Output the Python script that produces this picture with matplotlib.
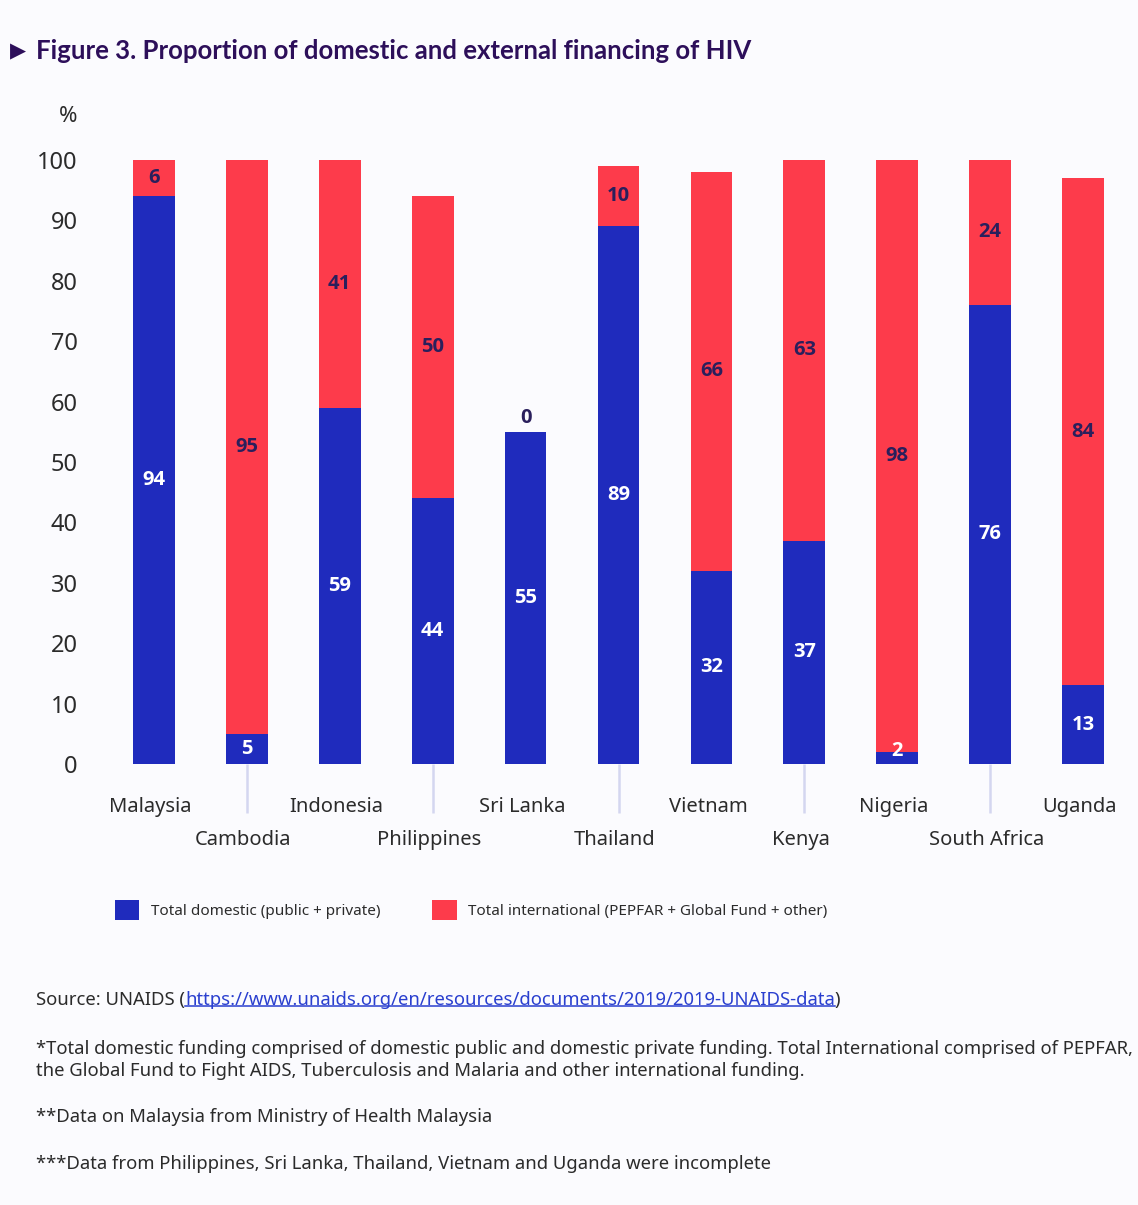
import numpy as np
import matplotlib
matplotlib.use("Agg")
import matplotlib.pyplot as plt
from matplotlib.patches import Patch
from matplotlib.lines import Line2D
from matplotlib.transforms import ScaledTranslation

# data
countries = ["Malaysia", "Cambodia", "Indonesia", "Philippines", "Sri Lanka", "Thailand",
             "Vietnam", "Kenya", "Nigeria", "South Africa", "Uganda"]
domestic = [94, 5, 59, 44, 55, 89, 32, 37, 2, 76, 13]
international = [6, 95, 41, 50, 0, 10, 66, 63, 98, 24, 84]
yticks = [0, 10, 20, 30, 40, 50, 60, 70, 80, 90, 100]

blue = "#1f2bbd"
red = "#fd3b4b"
navy = "#2a1f5c"
bg = "#fbfbfe"
txt = "#2b2b2b"

plt.rcParams["font.family"] = ["Noto Sans", "DejaVu Sans"]
bold_fam = ["Open Sans", "Noto Sans", "DejaVu Sans"]

W, H = 1138, 1205
fig = plt.figure(figsize=(W / 100, H / 100), dpi=100, facecolor=bg)
ax = fig.add_axes([100 / W, 1 - 764 / H, 1037 / W, 604 / H])
ax.set_facecolor(bg)

x = np.arange(len(countries))
ax.bar(x, domestic, width=0.45, color=blue)
ax.bar(x, international, bottom=domestic, width=0.45, color=red)

for i in range(len(countries)):
    d, v = domestic[i], international[i]
    ax.text(i, max(d / 2, 2.2), str(d), ha="center", va="center", color="white",
            fontsize=14.5, fontweight="bold", family=bold_fam)
    yv = d + v / 2 if v > 0 else d + 2.3
    ax.text(i, yv, str(v), ha="center", va="center", color=navy,
            fontsize=14.5, fontweight="bold", family=bold_fam)

ax.set_xlim(-0.58, 10.58)
ax.set_ylim(0, 100)
ax.set_yticks(yticks)
ax.tick_params(axis="y", length=0, pad=16, labelsize=17, labelcolor=txt)
for s in ax.spines.values():
    s.set_visible(False)

# staggered category labels
ax.set_xticks(x[::2])
ax.set_xticklabels(countries[::2])
ax.set_xticks(x[1::2], minor=True)
ax.set_xticklabels(countries[1::2], minor=True)
ax.tick_params(axis="x", which="major", length=0, pad=24, labelsize=14.5, labelcolor=txt)
ax.tick_params(axis="x", which="minor", length=35, width=1.8, color="#d4d6f0", pad=12.5,
               labelsize=14.5, labelcolor=txt)
shift = ScaledTranslation(-3.5 / 100, 0, fig.dpi_scale_trans)
for lab in ax.get_xticklabels() + ax.get_xticklabels(minor=True):
    lab.set_transform(lab.get_transform() + shift)

fig.text(68 / W, 1 - 117 / H, "%", ha="center", va="center", fontsize=16, color=txt)

fig.text(10 / W, 1 - 51 / H, "\u25b6", ha="left", va="center", fontsize=15,
         color="#2d0f5a", family=["DejaVu Sans"])
fig.text(36 / W, 1 - 51 / H, "Figure 3. Proportion of domestic and external financing of HIV",
         ha="left", va="center", fontsize=18.5, fontweight="bold", color="#2d0f5a",
         family=["Lato", "DejaVu Sans"])

handles = [Patch(facecolor=blue, label="Total domestic (public + private)"),
           Patch(facecolor=red, label="Total international (PEPFAR + Global Fund + other)")]
fig.legend(handles=handles, loc="center left", bbox_to_anchor=(115 / W, 1 - 910 / H),
           ncol=2, frameon=False, fontsize=11, handlelength=1.6, handleheight=1.6,
           handletextpad=0.75, columnspacing=3.4, borderpad=0, borderaxespad=0,
           labelcolor=txt)

# footer
fs = 13.3
r = fig.canvas.get_renderer()
t1 = fig.text(36 / W, 1 - 1000 / H, "Source: UNAIDS (", ha="left", va="center",
              fontsize=fs, color=txt)
b1 = t1.get_window_extent(r)
url = "https://www.unaids.org/en/resources/documents/2019/2019-UNAIDS-data"
t2 = fig.text(b1.x1 / W, 1 - 1000 / H, url, ha="left", va="center", fontsize=fs, color="#2a3fcf")
b2 = t2.get_window_extent(r)
fig.text(b2.x1 / W, 1 - 1000 / H, ")", ha="left", va="center", fontsize=fs, color=txt)
uy = (b2.y0 + 3) / H
fig.add_artist(Line2D([b2.x0 / W, b2.x1 / W], [uy, uy], color="#2a3fcf", lw=1.1))

fig.text(36 / W, 1 - 1060 / H,
         "*Total domestic funding comprised of domestic public and domestic private funding. "
         "Total International comprised of PEPFAR,\nthe Global Fund to Fight AIDS, Tuberculosis "
         "and Malaria and other international funding.",
         ha="left", va="center", fontsize=fs, color=txt, linespacing=1.35)
fig.text(36 / W, 1 - 1117 / H, "**Data on Malaysia from Ministry of Health Malaysia",
         ha="left", va="center", fontsize=fs, color=txt)
fig.text(36 / W, 1 - 1164 / H,
         "***Data from Philippines, Sri Lanka, Thailand, Vietnam and Uganda were incomplete",
         ha="left", va="center", fontsize=fs, color=txt)

fig.savefig("out.png", dpi=100, facecolor=bg)
